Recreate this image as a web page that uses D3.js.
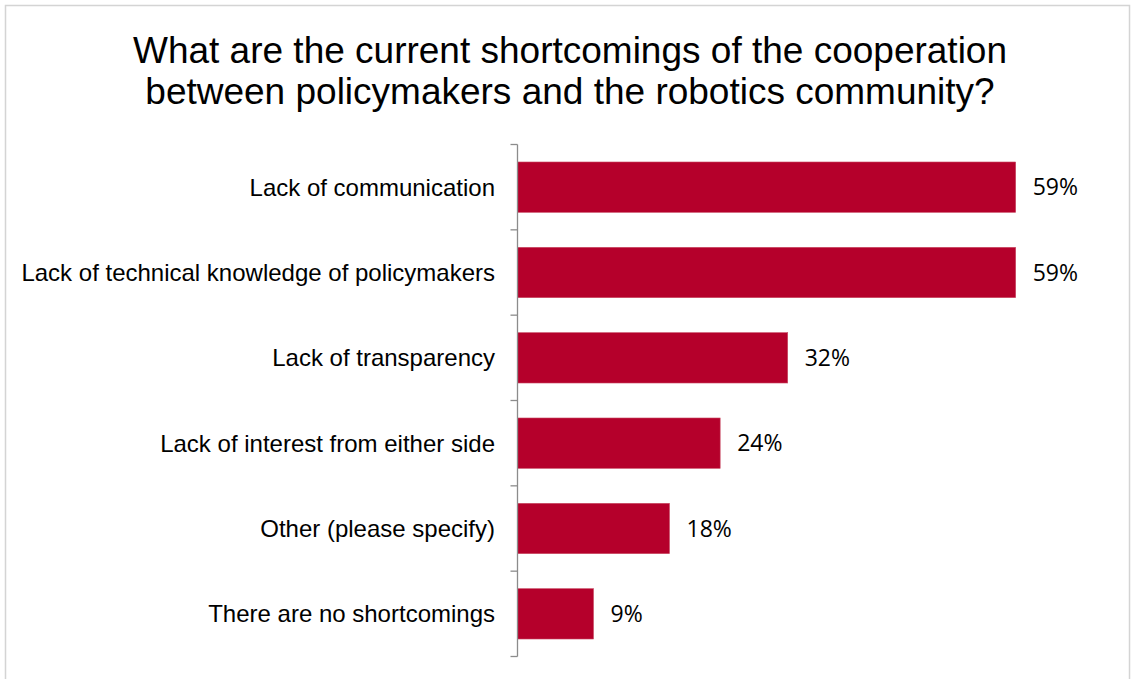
<!DOCTYPE html>
<html>
<head>
<meta charset="utf-8">
<script src="https://cdn.jsdelivr.net/npm/d3@7"></script>
<style>
  html, body { margin: 0; padding: 0; background: #fff; }
  svg { display: block; }
</style>
</head>
<body>
<svg id="chart" width="1131" height="679"></svg>
<script>
// Survey responses: shortcomings of policymaker / robotics cooperation
const categories = [
  "Lack of communication",
  "Lack of technical knowledge of policymakers",
  "Lack of transparency",
  "Lack of interest from either side",
  "Other (please specify)",
  "There are no shortcomings"
];
const values = [59, 59, 32, 24, 18, 9];
const titleLines = [
  "What are the current shortcomings of the cooperation",
  "between policymakers and the robotics community?"
];

const svg = d3.select("#chart");
const W = 1131, H = 679;

// outer frame
svg.append("rect")
  .attr("x", 5.5).attr("y", 5.5)
  .attr("width", 1124).attr("height", H + 10)
  .attr("fill", "#fff")
  .attr("stroke", "#d4d4d4")
  .attr("stroke-width", 1.5);

// title
svg.append("g")
  .selectAll("text")
  .data(titleLines)
  .join("text")
  .attr("x", 570)
  .attr("y", (d, i) => 63 + i * 41)
  .attr("text-anchor", "middle")
  .attr("font-family", "'Liberation Sans', Arial, sans-serif")
  .attr("font-size", 37)
  .attr("fill", "#000")
  .text(d => d);

const x0 = 517.5;
const x = d3.scaleLinear().domain([0, 60]).range([x0, x0 + 60 * 8.444]);
const y = d3.scaleBand().domain(categories).range([144.5, 656.5]).padding(0);
const barH = y.bandwidth() * 0.59;

// bars
svg.append("g")
  .selectAll("rect")
  .data(categories)
  .join("rect")
  .attr("x", x(0))
  .attr("y", d => y(d) + (y.bandwidth() - barH) / 2)
  .attr("width", (d, i) => x(values[i]) - x(0))
  .attr("height", barH)
  .attr("fill", "#b5002b")
  .attr("stroke", "#c84a63")
  .attr("stroke-width", 0.6);

// category axis: vertical line with ticks at slot boundaries
const axis = svg.append("g").attr("stroke", "#8c8c8c").attr("stroke-width", 1.3);
axis.append("line")
  .attr("x1", x0).attr("x2", x0)
  .attr("y1", y.range()[0]).attr("y2", y.range()[1]);
const boundaries = categories.map(c => y(c)).concat([y.range()[1]]);
axis.selectAll("line.tick")
  .data(boundaries)
  .join("line")
  .attr("class", "tick")
  .attr("x1", x0 - 7).attr("x2", x0)
  .attr("y1", d => d).attr("y2", d => d);

// category labels
svg.append("g")
  .selectAll("text")
  .data(categories)
  .join("text")
  .attr("x", 495)
  .attr("y", d => y(d) + y.bandwidth() / 2)
  .attr("dy", "0.35em")
  .attr("text-anchor", "end")
  .attr("font-family", "'Liberation Sans', Arial, sans-serif")
  .attr("font-size", 24)
  .attr("fill", "#000")
  .text(d => d);

// value labels
svg.append("g")
  .selectAll("text")
  .data(categories)
  .join("text")
  .attr("x", (d, i) => x(values[i]) + 17)
  .attr("y", d => y(d) + y.bandwidth() / 2)
  .attr("dy", "0.36em")
  .attr("font-family", "'Open Sans', sans-serif")
  .attr("font-size", 23)
  .attr("fill", "#000")
  .text((d, i) => values[i] + "%");
</script>
</body>
</html>
